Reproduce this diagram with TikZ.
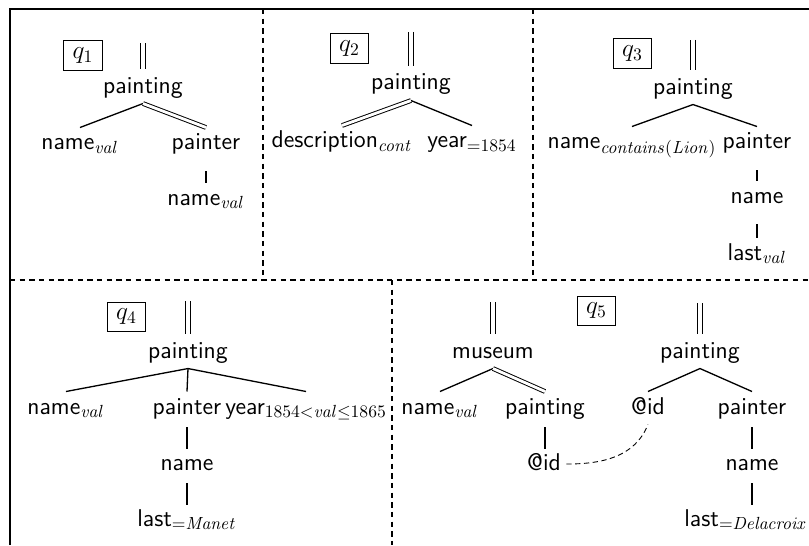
\documentclass[tikz,border=0pt]{standalone}
\usepackage{amsmath}
\usepackage{amsfonts}
\usepackage{tikz}

\begin{document}
\begin{tikzpicture}[lbl/.style = {font=\sffamily\fontsize{13.8}{16}\selectfont, anchor=base, inner sep=3pt, text height=9.6pt, text depth=2.8pt},
                    qbox/.style = {draw, line width=0.5pt, font=\fontsize{13.8}{16}\selectfont, inner xsep=5pt, minimum height=17pt},
                    tedge/.style = {line width=0.75pt},
                    dedge/.style = {line width=0.55pt, double, double distance=1.6pt},
                    chain/.style = {line width=0.75pt, shorten <=6pt},
                    longchain/.style = {line width=0.75pt, shorten <=1.5pt, shorten >=-1pt},
                    bar/.style = {line width=0.55pt, double, double distance=2pt, shorten >=1pt},
                    sep/.style = {line width=1.1pt, dash pattern=on 3pt off 2.5pt},
                    link/.style = {line width=0.5pt, dash pattern=on 3pt off 2pt}]
                \useasboundingbox (0, 0) rectangle (16.18, 10.9);

                % frame and panels
                \draw [line width=1.5pt] (0.2, 0) -- (0.2, 10.72) -- (16.18, 10.72);
                \draw [sep] (5.26, 10.72) -- (5.26, 5.3);
                \draw [sep] (10.66, 10.72) -- (10.66, 5.3);
                \draw [sep] (0.2, 5.3) -- (16.18, 5.3);
                \draw [sep] (7.84, 5.3) -- (7.84, 0);

                % q1
                \node[qbox] at (1.66, 9.79) (q1) {$q_1$};
                \coordinate (t1) at (2.86, 10.04);
                \node[lbl] at (2.86, 9.04) (p1) {painting};
                \node[lbl] at (1.60, 7.90) (na1) {name$_{\mathit{val}}$};
                \node[lbl] at (4.12, 7.90) (pr1) {painter};
                \node[lbl] at (4.12, 6.80) (nb1) {name$_{\mathit{val}}$};

                \draw [bar] (t1) -- (p1.north);
                \draw [tedge] (p1.south) -- (na1.north);
                \draw [dedge] (p1.south) -- (pr1.north);
                \draw [chain] (pr1.south) -- (nb1.north);

                % q2
                \node[qbox] at (6.99, 9.93) (q2) {$q_2$};
                \coordinate (t2) at (8.22, 10.26);
                \node[lbl] at (8.22, 9.1) (p2) {painting};
                \node[lbl] at (6.84, 7.94) (d2) {description$_{\mathit{cont}}$};
                \node[lbl] at (9.44, 7.94) (y2) {year$_{=1854}$};

                \draw [bar] (t2) -- (p2.north);
                \draw [dedge] (p2.south) -- (d2.north);
                \draw [tedge] (p2.south) -- (y2.north);

                % q3
                \node[qbox] at (12.65, 9.83) (q3) {$q_3$};
                \coordinate (t3) at (13.86, 10.1);
                \node[lbl] at (13.86, 9.02) (p3) {painting};
                \node[lbl] at (12.64, 7.92) (na3) {name$_{\mathit{contains(Lion)}}$};
                \node[lbl] at (15.14, 7.92) (pr3) {painter};
                \node[lbl] at (15.14, 6.84) (nb3) {name};
                \node[lbl] at (15.14, 5.7) (l3) {last$_{\mathit{val}}$};

                \draw [bar] (t3) -- (p3.north);
                \draw [tedge] (p3.south) -- (na3.north);
                \draw [tedge] (p3.south) -- (pr3.north);
                \draw [chain] (pr3.south) -- (nb3.north);
                \draw [chain] (nb3.south) -- (l3.north);

                % q4
                \node[qbox] at (2.53, 4.56) (q4) {$q_4$};
                \coordinate (t4) at (3.76, 4.88);
                \node[lbl] at (3.76, 3.74) (p4) {painting};
                \node[lbl] at (1.32, 2.62) (na4) {name$_{\mathit{val}}$};
                \node[lbl] at (3.74, 2.62) (pr4) {painter};
                \node[lbl] at (6.12, 2.62) (y4) {year$_{1854<\mathit{val}\leq 1865}$};
                \node[lbl] at (3.74, 1.5) (nb4) {name};
                \node[lbl] at (3.74, 0.38) (l4) {last$_{=\mathit{Manet}}$};

                \draw [bar] (t4) -- (p4.north);
                \draw [tedge] (p4.south) -- (na4.north);
                \draw [tedge] (p4.south) -- (pr4.north);
                \draw [tedge] (p4.south) -- (y4.north);
                \draw [longchain] (pr4.south) -- (nb4.north);
                \draw [longchain] (nb4.south) -- (l4.north);

                % q5
                \node[qbox] at (11.93, 4.68) (q5) {$q_5$};
                \coordinate (t5) at (9.86, 4.86);
                \node[lbl] at (9.86, 3.74) (m5) {museum};
                \node[lbl] at (8.8, 2.62) (na5) {name$_{\mathit{val}}$};
                \node[lbl] at (10.9, 2.62) (pa5) {painting};
                \node[lbl] at (10.88, 1.5) (ia5) {@id};

                \coordinate (u5) at (14.0, 4.84);
                \node[lbl] at (14.0, 3.74) (p5) {painting};
                \node[lbl] at (12.96, 2.62) (ib5) {@id};
                \node[lbl] at (15.04, 2.62) (pr5) {painter};
                \node[lbl] at (15.04, 1.5) (nb5) {name};
                \node[lbl] at (14.92, 0.38) (l5) {last$_{=\mathit{Delacroix}}$};

                \draw [bar] (t5) -- (m5.north);
                \draw [tedge] (m5.south) -- (na5.north);
                \draw [dedge] (m5.south) -- (pa5.north);
                \draw [longchain] (pa5.south) -- (pa5.south |- ia5.north);

                \draw [bar] (u5) -- (p5.north);
                \draw [tedge] (p5.south) -- (ib5.north);
                \draw [tedge] (p5.south) -- (pr5.north);
                \draw [longchain] (pr5.south) -- (nb5.north);
                \draw [longchain] (nb5.south) -- (nb5.south |- l5.north);

                \draw [link] (ia5.east) to[out=0, in=-112] (ib5.south);
                \end{tikzpicture}
\end{document}
